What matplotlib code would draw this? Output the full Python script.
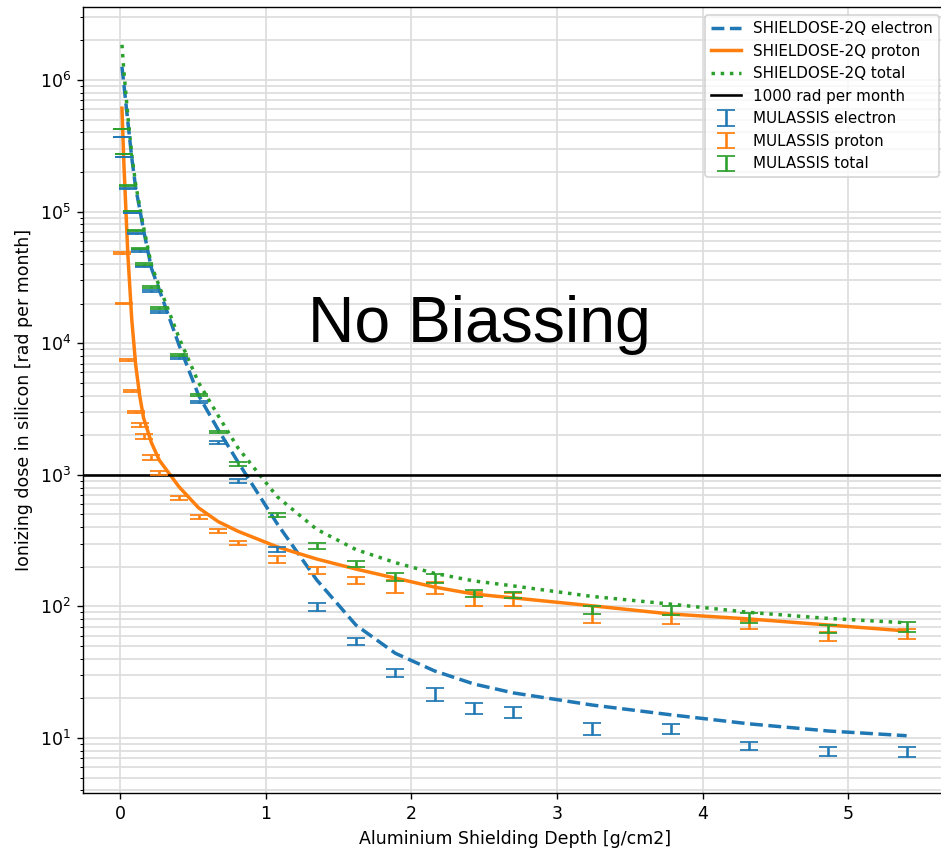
# Dose depth curve: SHIELDOSE-2Q vs MULASSIS (no biassing)

import numpy as np
import matplotlib
matplotlib.use('Agg')
import matplotlib.pyplot as plt

# depth in g/cm2 (mm of Al * 0.27)
depth = [0.0135, 0.027, 0.054, 0.081, 0.108, 0.135, 0.162, 0.216, 0.27, 0.405,
         0.54, 0.675, 0.81, 1.08, 1.35, 1.62, 1.89, 2.16, 2.43, 2.7,
         3.24, 3.78, 4.32, 4.86, 5.4]

# SHIELDOSE-2Q [rad per month]
sd_electron = [1.26e6, 9.2e5, 4.8e5, 2.55e5, 1.51e5, 1.05e5, 7.2e4, 3.7e4, 2.54e4, 9.7e3,
               4.0e3, 2.19e3, 1.25e3, 423, 159, 72, 44, 32.3, 25.7, 22.0,
               17.8, 15.0, 12.8, 11.3, 10.4]
sd_proton = [6.1e5, 2.26e5, 4.7e4, 1.5e4, 6.8e3, 4.0e3, 2.7e3, 1.75e3, 1.29e3, 810,
             560, 440, 372, 283, 229, 192, 164, 140, 124, 116,
             101, 87.5, 80.2, 72.2, 65.0]
sd_total = [1.85e6, 1.15e6, 5.3e5, 2.7e5, 1.6e5, 1.1e5, 7.6e4, 3.9e4, 2.7e4, 1.1e4,
            5.0e3, 2.8e3, 1.6e3, 680, 385, 270, 215, 178, 156, 143,
            119, 104, 90, 81, 75]

# MULASSIS [rad per month] with errors
mu_electron = [3.69e5, 2.6e5, 1.49e5, 9.75e4, 6.87e4, 5.02e4, 3.8e4, 2.49e4, 1.73e4, 7.73e3,
               3.57e3, 1.77e3, 898, 270, 98.9, 54.1, 31.2, 21.6, 16.8, 15.6,
               11.8, 11.7, 8.69, 7.89, 7.83]
mu_electron_err = [2e3, 1.5e3, 1e3, 8e2, 6e2, 5e2, 4e2, 4e2, 3e2, 1.5e2,
                   80, 50, 35, 12, 7, 3.4, 2.2, 2.4, 1.7, 1.5,
                   1.2, 1.0, 0.6, 0.6, 0.7]
mu_proton = [4.84e4, 1.99e4, 7.45e3, 4.34e3, 3.0e3, 2.39e3, 1.97e3, 1.36e3, 1.03e3, 667,
             478, 374, 303, 227, 187.6, 157, 141.6, 139.2, 113.8, 112.8,
             87.5, 79.4, 72.2, 59.0, 61.6]
mu_proton_err = [5e2, 2e2, 1e2, 80, 70, 84, 87, 60, 40, 25,
                 18, 14, 12, 14, 11.5, 9.6, 16, 14, 14, 13,
                 13, 6.3, 5, 4.7, 5.4]
mu_total = [4.25e5, 2.74e5, 1.57e5, 1.01e5, 7.13e4, 5.28e4, 4.0e4, 2.67e4, 1.85e4, 8.13e3,
            4.04e3, 2.11e3, 1.21e3, 496, 288, 210, 167, 163, 125, 122,
            94, 93.2, 81.7, 67.3, 69.7]
mu_total_err = [2e3, 1.5e3, 1e3, 8e2, 6e2, 5e2, 4e2, 4e2, 3e2, 1.5e2,
                80, 50, 35, 17, 15, 11, 12, 13, 8, 6.4,
                6.6, 7.3, 7, 4.7, 6]

fig = plt.figure(figsize=(941 / 125, 848 / 125), dpi=125)
ax = fig.add_axes([0.0882, 0.0649, 0.918, 0.9263])

ax.plot(depth, sd_electron, '--', color='C0', lw=2, label='SHIELDOSE-2Q electron')
ax.plot(depth, sd_proton, '-', color='C1', lw=2, label='SHIELDOSE-2Q proton')
ax.plot(depth, sd_total, ':', color='C2', lw=2, label='SHIELDOSE-2Q total')
ax.axhline(1000, color='black', lw=1.5, label='1000 rad per month')

ax.errorbar(depth, mu_electron, yerr=mu_electron_err, fmt='none', ecolor='C0',
            capsize=5, label='MULASSIS electron')
ax.errorbar(depth, mu_proton, yerr=mu_proton_err, fmt='none', ecolor='C1',
            capsize=5, label='MULASSIS proton')
ax.errorbar(depth, mu_total, yerr=mu_total_err, fmt='none', ecolor='C2',
            capsize=5, label='MULASSIS total')

ax.set_yscale('log')
ax.set_xlim(-0.254, 5.676)
ax.set_ylim(10 ** 0.582, 10 ** 6.551)
ax.grid(True, which='both', color='#dddddd', lw=1)
ax.set_axisbelow(True)

ax.set_xlabel('Aluminium Shielding Depth [g/cm2]')
ax.set_ylabel('Ionizing dose in silicon [rad per month]')
ax.text(0.459, 0.596, 'No Biassing', transform=ax.transAxes, ha='center', va='center',
        fontsize=37, family=['Liberation Sans', 'DejaVu Sans'])
ax.legend(loc='upper right', fontsize=8.7)

fig.savefig('out.png', dpi=125)
